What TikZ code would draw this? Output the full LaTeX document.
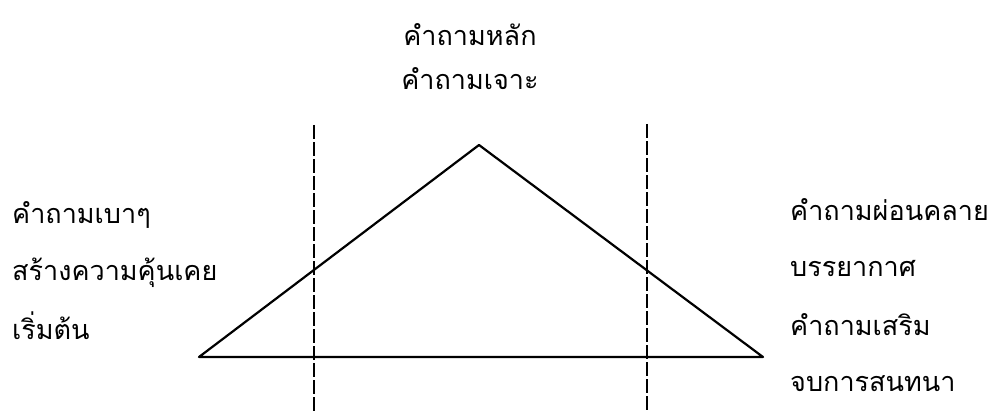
\documentclass[tikz,border=0pt]{standalone}
\usepackage{fontspec}
\newfontfamily\thaifont[Script=Thai]{Loma}
\begin{document}
\begin{tikzpicture}[x=1pt,y=-1pt,
  lbl/.style={inner sep=0pt,font=\thaifont\fontsize{27}{32}\selectfont},
  side/.style={draw=black,line width=2.2pt,line join=round},
  divider/.style={draw=black,line width=1.4pt,dash pattern=on 14pt off 3pt}]
\useasboundingbox (0,0) rectangle (997,412);
\fill[white] (0,0) rectangle (997,412);
% triangle corners
\coordinate (L) at (199,357);
\coordinate (A) at (479,145);
\coordinate (R) at (763,357);
% divider ends
\coordinate (d1t) at (314,125);
\coordinate (d1b) at (314,412);
\coordinate (d2t) at (647,124);
\coordinate (d2b) at (647,412);
\draw[divider] (d1t) -- (d1b);
\draw[divider] (d2t) -- (d2b);
\draw[side] (L) -- (A) -- (R) -- cycle;
% top texts
\node[lbl,anchor=base] (t1) at (470,46) {คำถามหลัก};
\node[lbl,anchor=base] (t2) at (470,90) {คำถามเจาะ};
% left texts
\node[lbl,anchor=base west] (l1) at (12,223) {คำถามเบาๆ};
\node[lbl,anchor=base west] (l2) at (12,280) {สร้างความคุ้นเคย};
\node[lbl,anchor=base west] (l3) at (12,339) {เริ่มต้น};
% right texts
\node[lbl,anchor=base west] (r1) at (790,220) {คำถามผ่อนคลาย};
\node[lbl,anchor=base west] (r2) at (790,276) {บรรยากาศ};
\node[lbl,anchor=base west] (r3) at (790,335) {คำถามเสริม};
\node[lbl,anchor=base west] (r4) at (790,391) {จบการสนทนา};
\end{tikzpicture}
\end{document}
